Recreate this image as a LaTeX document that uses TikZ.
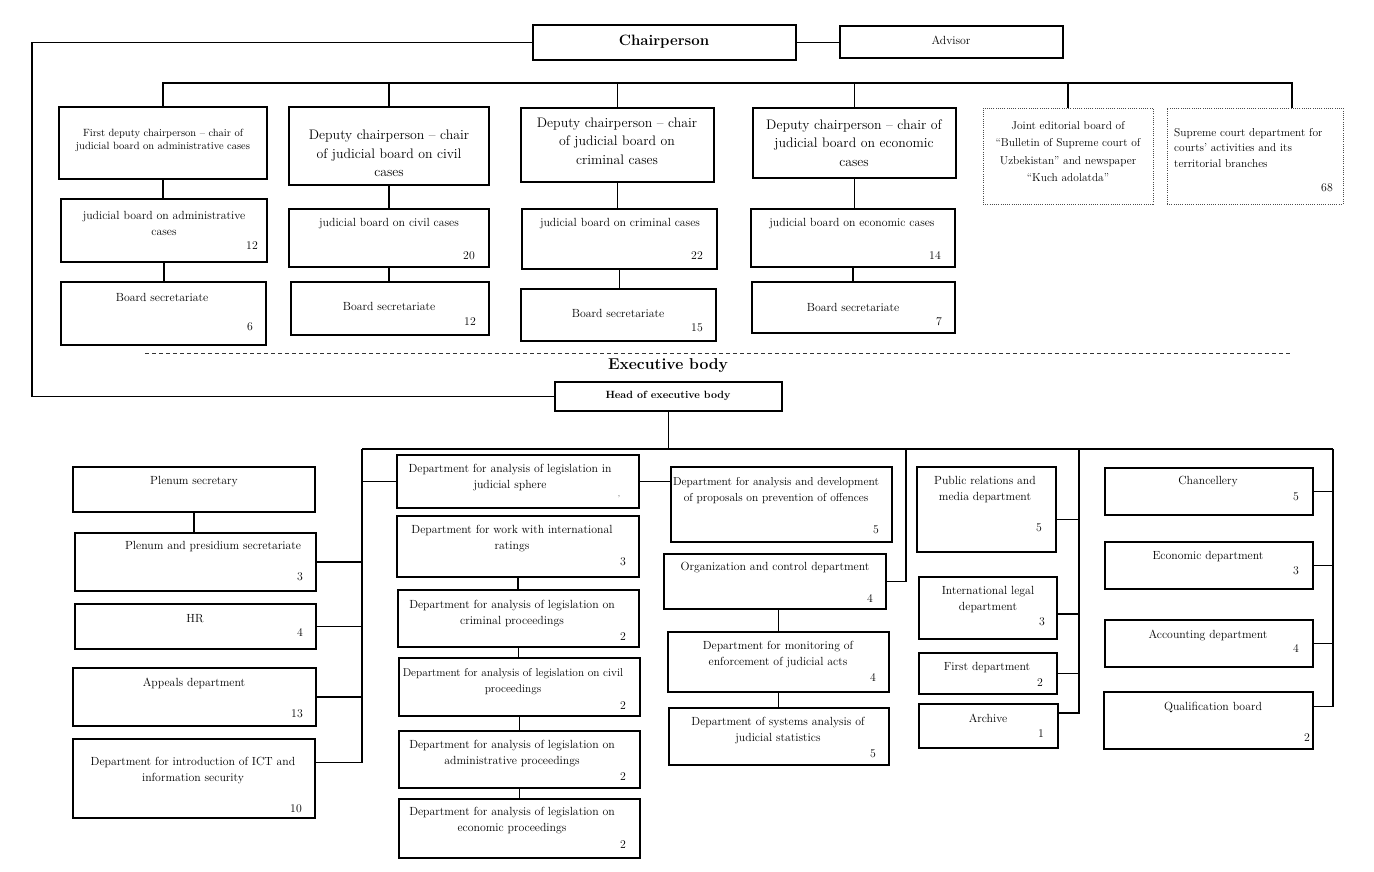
\documentclass[tikz,border=0pt]{standalone}
\usepackage{fontspec}
\usetikzlibrary{fit}
\tikzset{
 box/.style={draw, line width=1.8pt, inner sep=0pt},
 dbox/.style={draw=black!70, line width=1pt, dash pattern=on 1pt off 1.2pt},
 txt/.style={inner sep=0pt, align=center, font=\fontsize{11.8}{16}\selectfont},
 big/.style={font=\fontsize{13.8}{18.5}\selectfont},
 sml/.style={font=\fontsize{10.5}{13}\selectfont},
 num/.style={inner sep=0pt, font=\fontsize{11.8}{13}\selectfont},
 conn/.style={line width=1.8pt},
 sep/.style={line width=0.9pt, dash pattern=on 4pt off 3pt, draw=black!80},
}
\newcommand{\ob}[9][]{%
 \node[box,fit={(#3) (#4)},#1] (#2) {};
 \node[txt,#6] (#2t) at (#5) {#7};
 \node[num] (#2n) at (#8) {#9};}
\newcommand{\oc}[7][]{%
 \node[box,fit={(#3) (#4)},#1] (#2) {};
 \node[txt,#6] (#2t) at (#5) {#7};}
\begin{document}
\begin{tikzpicture}[x=1pt,y=-1pt]
\useasboundingbox[fill=white] (0,0) rectangle (1374,871);
% ---------- top part
\oc{chair}{533,25}{796,60}{664,42}{font=\bfseries\fontsize{15}{18}\selectfont}{Chairperson}
\oc{adv}{840,26}{1063,58}{951,40}{}{Advisor}
\oc{a1}{59,107}{267,179}{163,140.5}{sml}{First deputy chairperson – chair of\\judicial board on administrative cases}
\oc{b1}{289,107}{489,185}{389,153.5}{big}{Deputy chairperson – chair\\of judicial board on civil\\cases}
\oc{c1}{521,108}{714,182}{617,141}{big}{Deputy chairperson – chair\\of judicial board on\\criminal cases}
\oc{d1}{753,108}{956,178}{854,143}{big}{Deputy chairperson – chair of\\judicial board on economic\\cases}
\oc[dbox]{ed}{983,108}{1153,204}{1068,151.5}{font=\fontsize{11.4}{17.5}\selectfont}{Joint editorial board of\\“Bulletin of Supreme court of\\Uzbekistan” and newspaper\\“Kuch adolatda”}
\ob[dbox]{sc}{1167,108}{1343,204}{1174,148}{anchor=west,align=left,font=\fontsize{11.4}{15.5}\selectfont}{Supreme court department for\\courts’ activities and its\\territorial branches}{1327,188}{68}
\ob{a2}{61,199}{267,262}{164,223}{}{judicial board on administrative\\cases}{252,246}{12}
\ob{a3}{61,282}{266,345}{162,297}{}{Board secretariate}{250,327}{6}
\ob{b2}{289,209}{489,267}{389,224}{}{judicial board on civil cases}{469,256}{20}
\ob{b3}{291,282}{489,335}{389,306}{}{Board secretariate}{470,322}{12}
\ob{c2}{522,209}{717,269}{620,224}{}{judicial board on criminal cases}{697,256}{22}
\ob{c3}{521,289}{716,341}{618,313}{}{Board secretariate}{697,328}{15}
\ob{d2}{751,209}{955,267}{852,224}{}{judicial board on economic cases}{935,256}{14}
\ob{d3}{752,282}{955,333}{853,307}{}{Board secretariate}{939,322}{7}
% ---------- separator
\coordinate (sepL) at (145,353);
\coordinate (sepR) at (1290,353);
\draw[sep] (sepL) -- (sepR);
\node[font=\bfseries\fontsize{15.7}{18}\selectfont, inner sep=0pt] (exec) at (668,366) {Executive body};
\oc{head}{555,382}{782,411}{668,396}{font=\bfseries\fontsize{10.5}{12}\selectfont}{Head of executive body}
% ---------- left column
\oc{plsec}{73,467}{315,512}{194,482}{}{Plenum secretary}
\ob{plpr}{75,533}{316,591}{213,547}{}{Plenum and presidium secretariate}{300,577}{3}
\ob{hr}{75,604}{316,649}{195,619}{}{HR}{300,633}{4}
\ob{app}{73,668}{316,726}{194,683}{}{Appeals department}{297,714}{13}
\ob{ict}{73,739}{315,818}{193,770.5}{}{Department for introduction of ICT and\\information security}{296,809}{10}
% ---------- middle column
\ob{jud}{397,455}{639,508}{510,478}{}{Department for analysis of legislation in\\judicial sphere}{619,498}{\fontsize{7}{7}\selectfont '}
\ob{rat}{397,516}{639,577}{512,538.5}{}{Department for work with international\\ratings}{623,562}{3}
\ob{crim}{398,590}{639,647}{512,614}{}{Department for analysis of legislation on\\criminal proceedings}{623,637}{2}
\ob{civ}{399,658}{640,716}{513,681.5}{font=\fontsize{11.3}{16}\selectfont}{Department for analysis of legislation on civil\\proceedings}{623,706}{2}
\ob{adm}{399,731}{640,788}{512,753.5}{}{Department for analysis of legislation on\\administrative proceedings}{623,777}{2}
\ob{eco}{399,799}{640,858}{512,820.5}{}{Department for analysis of legislation on\\economic proceedings}{623,845}{2}
% ---------- right-middle column
\ob{prev}{671,467}{892,542}{776,490.5}{font=\fontsize{11.5}{16}\selectfont}{Department for analysis and development\\of proposals on prevention of offences}{876,530}{5}
\ob{org}{664,554}{886,609}{775,568}{}{Organization and control department}{870,599}{4}
\ob{mon}{668,632}{889,692}{778,654.5}{}{Department for monitoring of\\enforcement of judicial acts}{873,678}{4}
\ob{sys}{669,708}{889,765}{778,731}{}{Department of systems analysis of\\judicial statistics}{873,754}{5}
% ---------- right columns
\ob{pr}{917,467}{1056,552}{985,489.5}{}{Public relations and\\media department}{1039,528}{5}
\ob{intl}{919,577}{1057,639}{988,599.5}{}{International legal\\department}{1042,622}{3}
\ob{first}{919,653}{1057,694}{987,668}{}{First department}{1040,683}{2}
\ob{arch}{919,704}{1058,748}{988,718}{}{Archive}{1041,734}{1}
\ob{chan}{1105,468}{1313,515}{1208,482}{}{Chancellery}{1296,497}{5}
\ob{ecd}{1105,542}{1313,589}{1208,557}{}{Economic department}{1296,571}{3}
\ob{acc}{1105,620}{1313,667}{1208,635}{}{Accounting department}{1296,649}{4}
\ob{qual}{1104,692}{1313,749}{1213,707}{}{Qualification board}{1307,738}{2}
% ---------- connectors (top)
\coordinate (lft) at (32,200);
\coordinate (tbR) at (1292,83);
\draw[conn] (chair.west) -| (lft) |- (head.west);
\draw[conn] (chair.east) -- (chair.east -| adv.west);
\draw[conn] (a1.north) |- (tbR) -- (tbR |- sc.north);
\foreach \n in {b1,c1,d1,ed} \draw[conn] (\n.north) -- (\n.north |- tbR);
\draw[conn] (a1.south) -- (a1.south |- a2.north);
\draw[conn] (a2.south) -- (a2.south |- a3.north);
\draw[conn] (b1.south) -- (b1.south |- b2.north);
\draw[conn] (b2.south) -- (b2.south |- b3.north);
\draw[conn] (c1.south) -- (c1.south |- c2.north);
\draw[conn] (c2.south) -- (c2.south |- c3.north);
\draw[conn] (d1.south) -- (d1.south |- d2.north);
\draw[conn] (d2.south) -- (d2.south |- d3.north);
% ---------- connectors (executive)
\coordinate (ebL) at (362,449);
\coordinate (ebR) at (1333,449);
\coordinate (ebO) at (906,449);
\coordinate (ebA) at (1079,449);
\draw[conn] (head.south) -- (head.south |- ebL);
\draw[conn] (ebL) -- (ebR);
\draw[conn] ([yshift=16pt]ict.east) -| (ebL);
\foreach \n in {plpr,hr,app} \draw[conn] (\n.east) -| (ebL);
\draw[conn] (jud.west) -| (ebL);
\draw[conn] (jud.east) -- (jud.east -| prev.west);
\draw[conn] (plsec.south) -- (plsec.south |- plpr.north);
\draw[conn] (rat.south) -- (rat.south |- crim.north);
\draw[conn] (crim.south) -- (crim.south |- civ.north);
\draw[conn] (civ.south) -- (civ.south |- adm.north);
\draw[conn] (adm.south) -- (adm.south |- eco.north);
\draw[conn] (org.east) -| (ebO);
\draw[conn] (mon.north) -- (mon.north |- org.south);
\draw[conn] (mon.south) -- (mon.south |- sys.north);
\draw[conn] ([yshift=-10pt]pr.east) -| (ebA);
\draw[conn] ([yshift=-6pt]intl.east) -| (ebA);
\draw[conn] (first.east) -| (ebA);
\draw[conn] ([yshift=13pt]arch.east) -| (ebA);
\foreach \n in {chan,ecd,acc} \draw[conn] (\n.east) -| (ebR);
\draw[conn] ([yshift=14pt]qual.east) -| (ebR);
\end{tikzpicture}
\end{document}
